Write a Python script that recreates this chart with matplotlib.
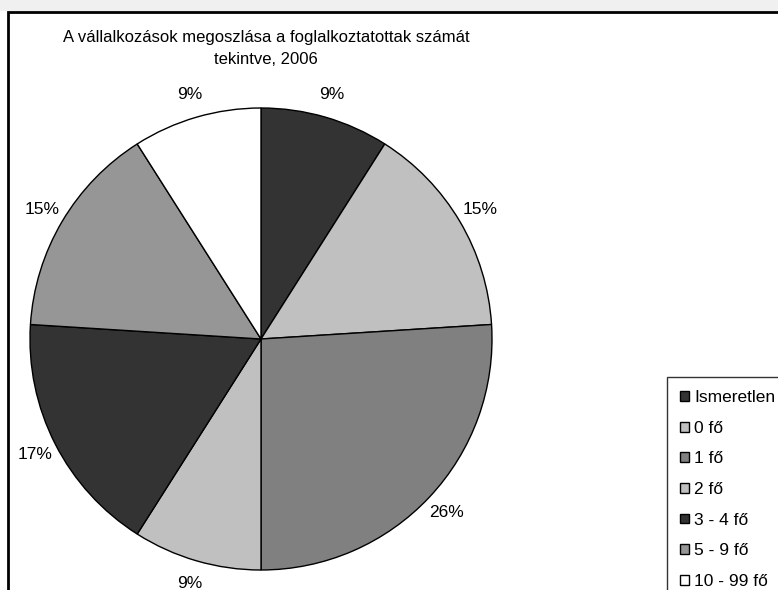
import matplotlib
matplotlib.use("Agg")
import matplotlib.pyplot as plt
from matplotlib.patches import Rectangle

categories = ["Ismeretlen", "0 fő", "1 fő", "2 fő", "3 - 4 fő", "5 - 9 fő", "10 - 99 fő"]
values = [9, 15, 26, 9, 17, 15, 9]
colors = ["#333333", "#c0c0c0", "#808080", "#c0c0c0", "#333333", "#969696", "#ffffff"]
title = "A vállalkozások megoszlása a foglalkoztatottak számát\ntekintve, 2006"

plt.rcParams["font.family"] = ["Liberation Sans", "DejaVu Sans"]

W, H = 778, 590
fig = plt.figure(figsize=(W / 100, H / 100), dpi=100)
fig.patch.set_facecolor("white")

# top grey strip and chart-area border
fig.patches.append(Rectangle((0, 1 - 11 / H), 1, 11 / H, transform=fig.transFigure,
                             facecolor="#f0f0f0", edgecolor="none", zorder=-2))
fig.patches.append(Rectangle((8 / W, -0.1), 1.2, 1 - 12 / H + 0.1, transform=fig.transFigure,
                             facecolor="white", edgecolor="black", linewidth=2, zorder=-1))

cx, cy, r = 261, 339, 231
ax = fig.add_axes([(cx - r) / W, (H - cy - r) / H, 2 * r / W, 2 * r / H])
wedges, texts, autotexts = ax.pie(
    values, colors=colors, startangle=90, counterclock=False,
    wedgeprops=dict(edgecolor="black", linewidth=1),
    autopct=lambda p: f"{p:.0f}%", pctdistance=1.10,
    textprops=dict(fontsize=12.5, color="black"))
for t in autotexts:
    t.set_clip_on(False)
ax.set_xlim(-1, 1)
ax.set_ylim(-1, 1)
ax.set_aspect("equal")
ax.axis("off")

fig.text(266 / W, 1 - 30 / H, title, ha="center", va="top", fontsize=12,
         linespacing=1.6)

leg = fig.legend(wedges, categories, loc="upper left",
                 bbox_to_anchor=(667 / W, 1 - 383 / H, 140 / W, 0.01), mode="expand",
                 frameon=True, fontsize=12.5, handlelength=0.5, handleheight=0.5,
                 handletextpad=0.3, labelspacing=0.9, borderpad=0.75,
                 borderaxespad=0, fancybox=False)
leg.get_frame().set_edgecolor("black")
leg.get_frame().set_linewidth(1)

fig.savefig("out.png", dpi=100)
